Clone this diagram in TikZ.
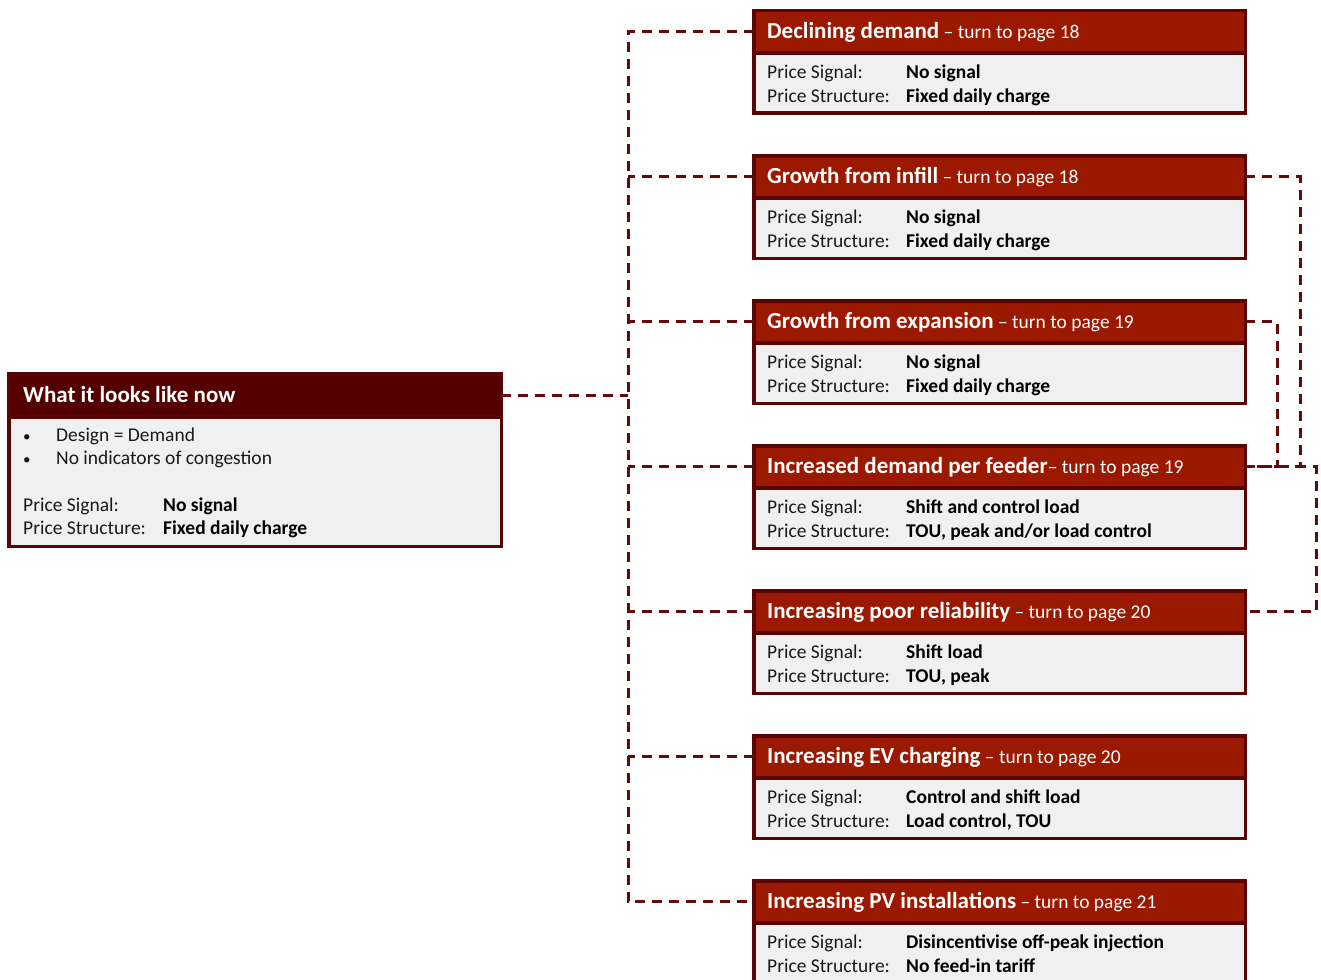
\documentclass[tikz,border=0pt]{standalone}
\usepackage{fontspec}
\setmainfont{Carlito}
\definecolor{hdrred}{RGB}{155,25,0}
\definecolor{hdrdark}{RGB}{85,0,0}
\definecolor{edgecol}{RGB}{90,5,5}
\definecolor{bodygray}{RGB}{240,240,240}
\definecolor{conncol}{RGB}{100,10,10}
\definecolor{txt}{RGB}{25,25,25}
\newcommand\infobox[6]{%
  \node[hdr] (#1h) at (753.75,#2+1.75) {};
  \node[bdy] (#1b) at (753.75,#2+44) {};
  \node[ttl] (#1t) at (767,#2+29.5) {\textbf{#3}{\fontsize{19.5}{23}\selectfont #4}};
  \node[lbl] (#1l1) at (767,#2+69.5) {Price Signal:};
  \node[lbl] (#1l2) at (767,#2+93.5) {Price Structure:};
  \node[val] (#1v1) at (906,#2+69.5) {#5};
  \node[val] (#1v2) at (906,#2+93.5) {#6};
}
\begin{document}
\begin{tikzpicture}[x=1pt,y=-1pt,
  hdr/.style={draw=edgecol, line width=3.5pt, fill=hdrred, anchor=north west, outer sep=0pt, minimum width=491.5pt, minimum height=42.25pt, inner sep=0pt},
  bdy/.style={draw=edgecol, line width=3.5pt, fill=bodygray, anchor=north west, outer sep=0pt, minimum width=491.5pt, minimum height=60.25pt, inner sep=0pt},
  ttl/.style={anchor=base west, text=white, font=\fontsize{23}{27}\selectfont, inner sep=0pt},
  lbl/.style={anchor=base west, text=txt, font=\fontsize{19.5}{23}\selectfont, inner sep=0pt},
  val/.style={anchor=base west, text=black, font=\fontsize{19.5}{23}\selectfont\bfseries, inner sep=0pt},
  conn/.style={draw=conncol, line width=3pt, dash pattern=on 10pt off 7pt}]
\useasboundingbox (0,0) rectangle (1321,979);

% left box
\node[hdr, fill=hdrdark, minimum width=492.5pt, minimum height=43.25pt] (Lh) at (8.75,373.75) {};
\node[bdy, minimum width=492.5pt, minimum height=129.25pt] (Lb) at (8.75,417) {};
\node[ttl, font=\fontsize{23}{27}\selectfont\bfseries] (Lt) at (23,402) {What it looks like now};
\node[lbl, font=\fontsize{15}{23}\selectfont] (Lbu1) at (23,441) {•};
\node[lbl] (Lbt1) at (56,441) {Design = Demand};
\node[lbl, font=\fontsize{15}{23}\selectfont] (Lbu2) at (23,464) {•};
\node[lbl] (Lbt2) at (56,464) {No indicators of congestion};
\node[lbl] (Ll1) at (23,511) {Price Signal:};
\node[lbl] (Ll2) at (23,534) {Price Structure:};
\node[val] (Lv1) at (163,511) {No signal};
\node[val] (Lv2) at (163,534) {Fixed daily charge};

% right boxes
\infobox{d1}{9}{Declining demand}{ – turn to page 18}{No signal}{Fixed daily charge}
\infobox{d2}{154}{Growth from infill}{ – turn to page 18}{No signal}{Fixed daily charge}
\infobox{d3}{299}{Growth from expansion}{ – turn to page 19}{No signal}{Fixed daily charge}
\infobox{d4}{444}{Increased demand per feeder}{– turn to page 19}{Shift and control load}{TOU, peak and/or load control}
\infobox{d5}{589}{Increasing poor reliability}{ – turn to page 20}{Shift load}{TOU, peak}
\infobox{d6}{734}{Increasing EV charging}{ – turn to page 20}{Control and shift load}{Load control, TOU}
\infobox{d7}{879}{Increasing PV installations}{ – turn to page 21}{Disincentivise off-peak injection}{No feed-in tariff}

% connectors
\coordinate (bus) at (628,0);
\draw[conn] (Lh.east) -- (Lh.east -| bus);
\draw[conn] (d1h.west) -- (d1h.west -| bus) -- (d7h.west -| bus) -- (d7h.west);
\foreach \i in {2,...,6} {\draw[conn] (d\i h.west) -- (d\i h.west -| bus);}
\draw[conn] (d2h.east) -- ++(54.75,0) |- (d4h.east);
\draw[conn] (d3h.east) -- ++(31.75,0) |- (d4h.east);
\draw[conn] (d4h.east) -- ++(70.75,0) |- (d5h.east);
\end{tikzpicture}
\end{document}
